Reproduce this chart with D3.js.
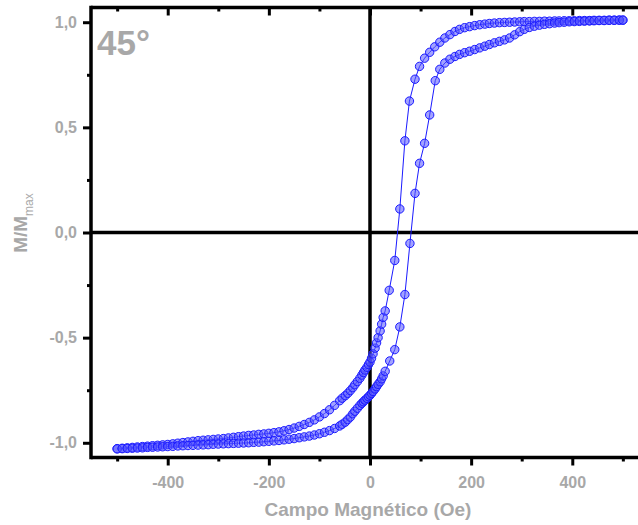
<!DOCTYPE html>
<meta charset="utf-8">
<style>
	body {
	margin: 0;
	background-color: #fff;
	}
	svg {
	display: block;
	font-family: Arial, "Liberation Sans", sans-serif;
	}
	.frame line, .zero line {
	stroke: #000;
	stroke-width: 3.5;
	}
	.axis path {
	display: none;
	}
	.axis line {
	stroke: #000;
	stroke-width: 3;
	}
	.axis text, .label {
	fill: #a8a8a8;
	font-weight: bold;
	}
	.loop path {
	fill: none;
	stroke: #1a1aff;
	stroke-width: 1;
	}
	.loop circle {
	fill: rgba(85, 85, 255, 0.55);
	stroke: #1a1aff;
	stroke-width: 1;
	}
</style>
<body>
	<script src="https://cdn.jsdelivr.net/npm/d3@7"></script>
	<script>
		// ramo que chaveia primeiro (curva de cima)
		var campoA = [-500, -490, -480, -470, -460, -450, -440, -430, -420, -410,
		  -400, -390, -380, -370, -360, -350, -340, -330, -320, -310,
		  -300, -290, -280, -270, -260, -250, -240, -230, -220, -210,
		  -200, -190, -180, -170, -160, -150, -140, -130, -120, -110,
		  -100, -90, -80, -70, -60, -55, -49, -44, -39, -34, -30, -25, -20, -16, -13, -10, -6, -3,
		  0, 3, 6, 10, 13, 16, 20, 23, 26, 30, 38, 49, 59, 69, 78, 89, 98, 108, 118, 128,
		  138, 148, 158, 168, 177, 187, 197, 207, 217, 227, 236, 246, 256, 266, 276, 286,
		  296, 305, 315, 325, 335, 345, 355, 365, 374, 384, 394, 404, 414, 424, 434, 443,
		  453, 463, 473, 483, 493, 500];
		var magA = [-1.028, -1.026, -1.024, -1.022, -1.020, -1.018, -1.016, -1.014, -1.012, -1.010,
		  -1.008, -1.005, -1.002, -0.999, -0.996, -0.993, -0.990, -0.988, -0.986, -0.984,
		  -0.982, -0.980, -0.977, -0.974, -0.971, -0.968, -0.965, -0.963, -0.960, -0.958,
		  -0.955, -0.952, -0.948, -0.943, -0.937, -0.930, -0.922, -0.913, -0.903, -0.891,
		  -0.877, -0.861, -0.843, -0.822, -0.800, -0.788, -0.776, -0.765, -0.752, -0.738, -0.724, -0.709, -0.693, -0.678, -0.666, -0.654, -0.641, -0.628,
		  -0.616, -0.598, -0.577, -0.550, -0.525, -0.500, -0.468, -0.436, -0.404, -0.373, -0.275, -0.133, 0.112, 0.436, 0.625, 0.729, 0.790, 0.829, 0.857, 0.883,
		  0.905, 0.925, 0.941, 0.956, 0.966, 0.974, 0.979, 0.984, 0.988, 0.991, 0.994, 0.996, 0.998, 0.999, 1.000, 1.001,
		  1.002, 1.003, 1.003, 1.004, 1.004, 1.005, 1.005, 1.006, 1.006, 1.007, 1.007, 1.007, 1.008, 1.008, 1.008, 1.009,
		  1.009, 1.009, 1.010, 1.010, 1.010, 1.010];

		// ramo que chaveia depois (curva de baixo)
		var campoB = [-500, -490, -480, -470, -460, -450, -440, -430, -420, -410,
		  -400, -390, -380, -370, -360, -350, -340, -330, -320, -310,
		  -300, -290, -280, -270, -260, -250, -240, -230, -220, -210,
		  -200, -190, -180, -170, -160, -150, -140, -130, -120, -110,
		  -100, -90, -80, -70, -60, -55, -49, -44, -39, -34, -30, -25, -20, -16, -13, -10, -6, -3,
		  0, 3, 6, 10, 13, 16, 20, 23, 26, 30, 39, 49, 59, 69, 79, 89, 98, 108, 118, 129,
		  138, 148, 158, 168, 177, 187, 197, 207, 217, 227, 236, 246, 256, 266, 276, 286,
		  296, 305, 315, 325, 335, 345, 355, 365, 374, 384, 394, 404, 414, 424, 434, 443,
		  453, 463, 473, 483, 493, 500];
		var magB = [-1.029, -1.028, -1.027, -1.026, -1.025, -1.024, -1.022, -1.021, -1.020, -1.019,
		  -1.018, -1.017, -1.015, -1.014, -1.013, -1.012, -1.011, -1.010, -1.009, -1.007,
		  -1.006, -1.005, -1.004, -1.003, -1.002, -1.001, -1.000, -0.998, -0.997, -0.995,
		  -0.993, -0.991, -0.989, -0.986, -0.983, -0.980, -0.976, -0.972, -0.968, -0.963,
		  -0.957, -0.950, -0.942, -0.932, -0.920, -0.912, -0.902, -0.890, -0.878, -0.862, -0.850, -0.836, -0.822, -0.812, -0.805, -0.797, -0.789, -0.781,
		  -0.774, -0.765, -0.756, -0.744, -0.733, -0.722, -0.710, -0.696, -0.682, -0.660, -0.611, -0.557, -0.449, -0.295, -0.052, 0.186, 0.329, 0.424, 0.559, 0.722,
		  0.776, 0.806, 0.824, 0.837, 0.847, 0.855, 0.862, 0.870, 0.878, 0.886, 0.894, 0.902, 0.909, 0.916, 0.925, 0.940,
		  0.955, 0.966, 0.975, 0.981, 0.986, 0.990, 0.993, 0.996, 0.998, 1.000, 1.002, 1.003, 1.004, 1.005, 1.006, 1.007,
		  1.008, 1.008, 1.009, 1.009, 1.010, 1.010];

		var xTicks = [-400, -200, 0, 200, 400],
		    xMinor = [-500, -300, -100, 100, 300, 500],
		    yTicks = [-1, -0.5, 0, 0.5, 1],
		    yMinor = [-0.75, -0.25, 0.25, 0.75];

		var width = 638,
		    height = 525;

		var x = d3.scaleLinear().domain([-551.7, 551.7]).range([91, 649]);
		var y = d3.scaleLinear().domain([-1.07, 1.07]).range([457.5, 7.5]);

		var svg = d3.select("body").append("svg")
		    .attr("width", width)
		    .attr("height", height);

		var fmtY = function(d) { return d.toFixed(1).replace(".", ","); };

		// eixo de baixo
		svg.append("g").attr("class", "axis")
		    .attr("transform", "translate(0," + y.range()[0] + ")")
		    .call(d3.axisBottom(x).tickValues(xMinor).tickSize(4).tickFormat(""));
		svg.append("g").attr("class", "axis")
		    .attr("transform", "translate(0," + y.range()[0] + ")")
		    .call(d3.axisBottom(x).tickValues(xTicks).tickSize(8).tickPadding(11).tickFormat(String))
		    .selectAll("text").style("font-size", "16px");

		// eixo de cima, ticks para dentro
		svg.append("g").attr("class", "axis")
		    .attr("transform", "translate(0," + y.range()[1] + ")")
		    .call(d3.axisBottom(x).tickValues(xMinor).tickSize(4).tickFormat(""));
		svg.append("g").attr("class", "axis")
		    .attr("transform", "translate(0," + y.range()[1] + ")")
		    .call(d3.axisBottom(x).tickValues(xTicks).tickSize(8).tickFormat(""));

		// eixo da esquerda
		svg.append("g").attr("class", "axis")
		    .attr("transform", "translate(" + x.range()[0] + ",0)")
		    .call(d3.axisLeft(y).tickValues(yMinor).tickSize(4).tickFormat(""));
		svg.append("g").attr("class", "axis")
		    .attr("transform", "translate(" + x.range()[0] + ",0)")
		    .call(d3.axisLeft(y).tickValues(yTicks).tickSize(8).tickPadding(6).tickFormat(fmtY))
		    .selectAll("text").style("font-size", "16px");

		var frame = svg.append("g").attr("class", "frame");
		frame.append("line")
		    .attr("x1", x.range()[0]).attr("x2", width)
		    .attr("y1", y.range()[0]).attr("y2", y.range()[0]);
		frame.append("line")
		    .attr("x1", x.range()[0]).attr("x2", width)
		    .attr("y1", y.range()[1]).attr("y2", y.range()[1]);
		frame.append("line")
		    .attr("x1", x.range()[0]).attr("x2", x.range()[0])
		    .attr("y1", y.range()[1] - 1.7).attr("y2", y.range()[0] + 1.7);

		var zero = svg.append("g").attr("class", "zero");
		zero.append("line")
		    .attr("x1", x.range()[0]).attr("x2", width)
		    .attr("y1", y(0)).attr("y2", y(0));
		zero.append("line")
		    .attr("x1", x(0)).attr("x2", x(0))
		    .attr("y1", y.range()[1]).attr("y2", y.range()[0]);

		var line = d3.line()
		    .x(function(d) { return x(d[0]); })
		    .y(function(d) { return y(d[1]); });

		var ramos = [d3.zip(campoA, magA), d3.zip(campoB, magB)];

		var loop = svg.append("g").attr("class", "loop");
		loop.selectAll("path").data(ramos)
		  .enter().append("path")
		    .attr("d", line);
		loop.selectAll("g").data(ramos)
		  .enter().append("g")
		    .selectAll("circle").data(function(d) { return d; })
		  .enter().append("circle")
		    .attr("cx", function(d) { return x(d[0]); })
		    .attr("cy", function(d) { return y(d[1]); })
		    .attr("r", 4.2);

		svg.append("text").attr("class", "label")
		    .attr("x", 97).attr("y", 55)
		    .style("font-size", "35px")
		    .text("45°");

		svg.append("text").attr("class", "label")
		    .attr("x", x(0) - 2).attr("y", 516)
		    .attr("text-anchor", "middle")
		    .style("font-size", "19px")
		    .text("Campo Magnético (Oe)");

		var yt = svg.append("text").attr("class", "label")
		    .attr("transform", "translate(27,223) rotate(-90)")
		    .attr("text-anchor", "middle")
		    .style("font-size", "19px");
		yt.append("tspan").text("M/M");
		yt.append("tspan")
		    .attr("dy", 6)
		    .style("font-size", "12px")
		    .style("font-weight", "normal")
		    .text("max");
	</script>
